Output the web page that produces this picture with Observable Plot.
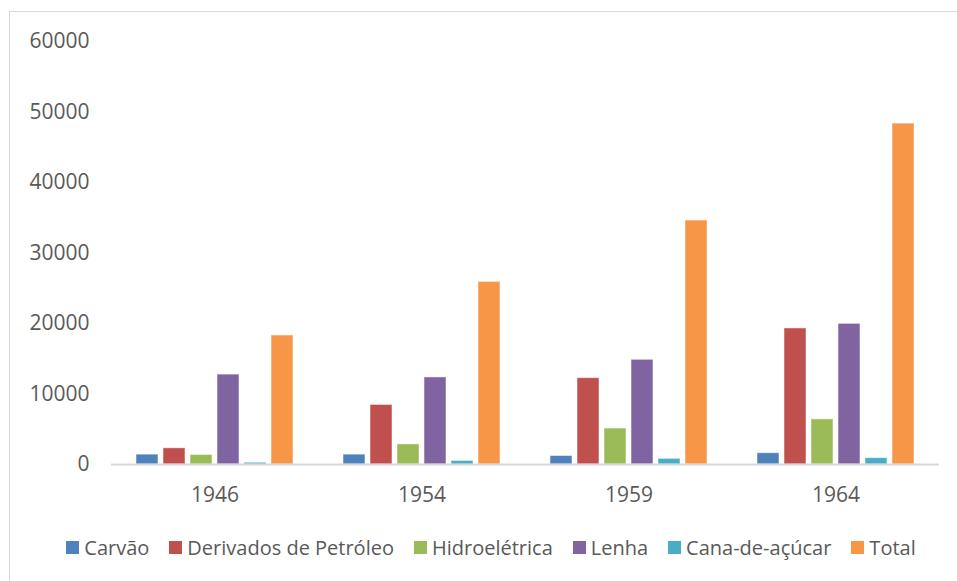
<!DOCTYPE html>
<html>
<head>
<meta charset="utf-8">
<script src="https://cdn.jsdelivr.net/npm/d3@7"></script>
<script src="https://cdn.jsdelivr.net/npm/@observablehq/plot@0.6"></script>
<style>
  html, body { margin: 0; padding: 0; background: #fff; }
  body { width: 957px; height: 581px; position: relative; overflow: hidden; font-family: "Open Sans", sans-serif; }
  #frame { position: absolute; left: 9px; top: 11px; width: 980px; height: 600px; border: 1px solid #d9d9d9; box-sizing: border-box; }
  #chart { position: absolute; left: 0; top: 0; }
  #legend { position: absolute; left: 0; top: 534px; width: 982px; display: flex; justify-content: center; align-items: center; font-size: 20px; color: #595959; }
  .item { display: flex; align-items: center; margin: 0 10px; }
  .sw { width: 13px; height: 13px; margin-right: 5px; }
</style>
</head>
<body>
<div id="frame"></div>
<div id="chart"></div>
<div id="legend"></div>
<script>
const years = ["1946", "1954", "1959", "1964"];
const seriesNames = ["Carvão", "Derivados de Petróleo", "Hidroelétrica", "Lenha", "Cana-de-açúcar", "Total"];
const colors = ["#4F81BD", "#C0504D", "#9BBB59", "#8064A2", "#4BACC6", "#F79646"];
const carvao = [1400, 1400, 1200, 1600];
const derivados = [2300, 8450, 12250, 19300];
const hidroeletrica = [1350, 2850, 5100, 6400];
const lenha = [12750, 12350, 14850, 19950];
const cana = [250, 500, 800, 900];
const total = [18300, 25900, 34600, 48350];
const yTicks = [0, 10000, 20000, 30000, 40000, 50000, 60000];

const seriesValues = [carvao, derivados, hidroeletrica, lenha, cana, total];
const data = [];
years.forEach((yr, i) => {
  seriesNames.forEach((s, j) => data.push({year: yr, series: s, value: seriesValues[j][i]}));
});

const chart = Plot.plot({
  width: 957,
  height: 525,
  marginLeft: 110,
  marginRight: 17,
  marginTop: 41,
  marginBottom: 61,
  style: {fontFamily: "Open Sans, sans-serif", fontSize: "21px", color: "#595959", background: "transparent"},
  fx: {domain: years, paddingInner: 0, paddingOuter: 0, label: null, axis: null},
  x: {domain: seriesNames, paddingInner: 0.2, paddingOuter: 0.85, axis: null},
  y: {domain: [0, 60000], axis: null},
  color: {domain: seriesNames, range: colors},
  marks: [
    Plot.axisY({ticks: yTicks, tickSize: 0, tickPadding: 22, label: null, tickFormat: d => String(d), fill: "#595959"}),
    Plot.axisFx({anchor: "bottom", tickSize: 0, tickPadding: 23, label: null, fill: "#595959"}),
    Plot.barY(data, {fx: "year", x: "series", y: "value", fill: "series", stroke: "#ffffff", strokeOpacity: 0.5, strokeWidth: 1}),
    Plot.ruleY([0], {stroke: "#d9d9d9", strokeWidth: 2})
  ]
});
document.getElementById("chart").appendChild(chart);

const legend = document.getElementById("legend");
seriesNames.forEach((s, i) => {
  const it = document.createElement("div");
  it.className = "item";
  const sw = document.createElement("div");
  sw.className = "sw";
  sw.style.background = colors[i];
  const t = document.createElement("span");
  t.textContent = s;
  it.appendChild(sw);
  it.appendChild(t);
  legend.appendChild(it);
});
</script>
</body>
</html>
